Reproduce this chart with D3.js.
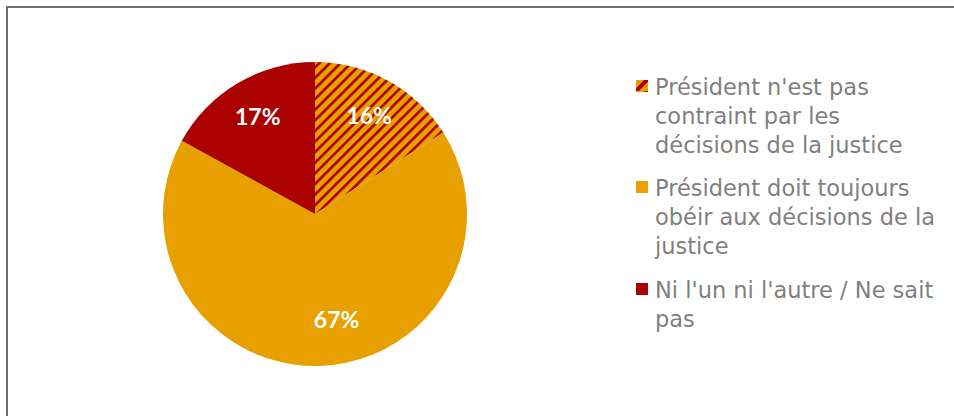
<!DOCTYPE html>
<meta charset="utf-8">
<style>
body { margin: 0; background: #fff; }
.label { font-family: "Lato", sans-serif; font-weight: bold; font-size: 23px; fill: #fff; }
.legend text { font-family: "DejaVu Sans", sans-serif; font-size: 22.5px; fill: #7f7f7f; }
</style>
<svg width="954" height="416"></svg>
<script src="https://d3js.org/d3.v7.min.js"></script>
<script>
// data
var categories = ["Président n'est pas contraint par les décisions de la justice",
                  "Président doit toujours obéir aux décisions de la justice",
                  "Ni l'un ni l'autre / Ne sait pas"];
var values = [16, 67, 17];
var legendLines = [["Président n'est pas", "contraint par les", "décisions de la justice"],
                   ["Président doit toujours", "obéir aux décisions de la", "justice"],
                   ["Ni l'un ni l'autre / Ne sait", "pas"]];

var orange = "#e8a000", red = "#aa0000";

var svg = d3.select("svg"),
    cx = 315, cy = 214, radius = 152;

// frame
svg.append("path")
    .attr("d", "M7,416 V7 H954")
    .attr("fill", "none")
    .attr("stroke", "#6d6d6d")
    .attr("stroke-width", 2);

var defs = svg.append("defs");
var pat = defs.append("pattern")
    .attr("id", "stripes")
    .attr("patternUnits", "userSpaceOnUse")
    .attr("width", 7.5).attr("height", 7.5)
    .attr("patternTransform", "rotate(45)");
pat.append("rect").attr("width", 7.5).attr("height", 7.5).attr("fill", orange);
pat.append("rect").attr("width", 2.6).attr("height", 7.5).attr("fill", red);

var fills = ["url(#stripes)", orange, red];

var pie = d3.pie().sort(null).value(function(d) { return d; });
var arc = d3.arc().innerRadius(0).outerRadius(radius);

var g = svg.append("g").attr("transform", "translate(" + cx + "," + cy + ")");
var arcs = pie(values);

g.selectAll("path.slice")
    .data(arcs)
  .enter().append("path")
    .attr("class", "slice")
    .attr("d", arc)
    .attr("fill", function(d, i) { return fills[i]; });

// label placement: like excel, the big slice label sits a bit off its middle
function labelPos(d) {
  var a = (d.startAngle + d.endAngle) / 2, r = radius * 0.74;
  if (d.endAngle - d.startAngle > Math.PI) { a -= 0.17; r = radius * 0.71; }
  return [Math.sin(a) * r, -Math.cos(a) * r];
}

g.selectAll("text.label")
    .data(arcs)
  .enter().append("text")
    .attr("class", "label")
    .attr("transform", function(d) { return "translate(" + labelPos(d) + ")"; })
    .attr("text-anchor", "middle")
    .attr("dy", "0.36em")
    .text(function(d) { return d.value + "%"; });

// legend (y = baseline of first line)
var legY = [95, 196, 298], lineH = 29;
var leg = svg.append("g").attr("class", "legend");
var item = leg.selectAll("g")
    .data(categories)
  .enter().append("g")
    .attr("transform", function(d, i) { return "translate(636," + legY[i] + ")"; });

var swatchPat = defs.append("pattern")
    .attr("id", "swatchStripe")
    .attr("patternUnits", "userSpaceOnUse")
    .attr("x", 636).attr("y", 80)
    .attr("width", 12).attr("height", 12);
swatchPat.append("rect").attr("width", 12).attr("height", 12).attr("fill", orange);
swatchPat.append("path").attr("d", "M0,12 L12,0").attr("stroke", red).attr("stroke-width", 4);

item.append("rect")
    .attr("x", 0).attr("y", -15)
    .attr("width", 12).attr("height", 12)
    .attr("fill", function(d, i) { return i === 0 ? "url(#swatchStripe)" : fills[i]; });

item.append("text")
    .attr("x", 19).attr("y", 0)
    .selectAll("tspan")
    .data(function(d, i) { return legendLines[i]; })
  .enter().append("tspan")
    .attr("x", 19)
    .attr("dy", function(d, j) { return j === 0 ? 0 : lineH; })
    .text(function(d) { return d; });
</script>
